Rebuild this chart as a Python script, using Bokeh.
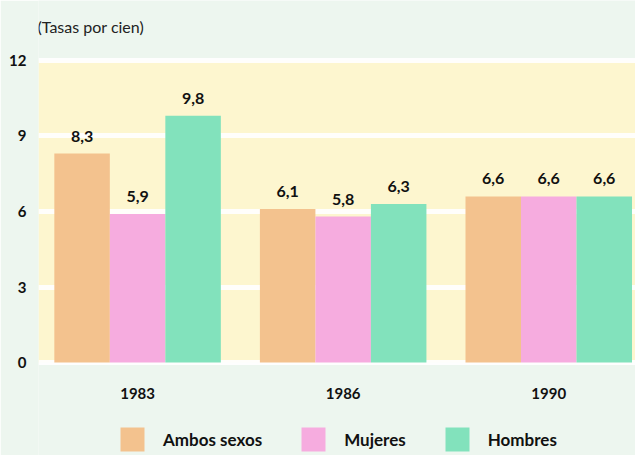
from bokeh.plotting import figure
from bokeh.models import (FactorRange, ColumnDataSource, FixedTicker, Legend,
                          LegendItem, BoxAnnotation, Label, Range1d)
from bokeh.transform import dodge
from bokeh.core.properties import value
from bokeh.embed import file_html
from bokeh.resources import INLINE

years = ["1983", "1986", "1990"]
series = ["Ambos sexos", "Mujeres", "Hombres"]
ambos = [8.3, 6.1, 6.6]
mujeres = [5.9, 5.8, 6.6]
hombres = [9.8, 6.3, 6.6]
y_ticks = [0, 3, 6, 9, 12]
y_title = "(Tasas por cien)"

colors = ["#f3c28e", "#f6acdf", "#82e2bc"]
FONT = "Lato"
BG = "#edf6ef"
PANEL = "#fdf6cf"

def fmt(v):
    return f"{v:.1f}".replace(".", ",")

data = dict(year=years, ambos=ambos, mujeres=mujeres, hombres=hombres,
            base=[0] * len(years))
for k in ["ambos", "mujeres", "hombres"]:
    data[k + "_lbl"] = [fmt(v) for v in data[k]]
source = ColumnDataSource(data)

# frame covers the whole height; the 0..12 band is the coloured panel
p = figure(
    x_range=FactorRange(*years, range_padding=-0.032),
    y_range=Range1d(-3.69, 14.38),
    width=635, height=455,
    output_backend="svg", toolbar_location=None,
    min_border_left=38, min_border_right=0,
    min_border_top=0, min_border_bottom=0,
)
p.background_fill_color = BG
p.border_fill_color = BG
p.outline_line_color = None

p.add_layout(BoxAnnotation(bottom=0, top=12, fill_color=PANEL, fill_alpha=1,
                           line_color=None, level="image"))

shift = 0.03
bw = 0.27
keys = ["ambos", "mujeres", "hombres"]
renderers = []
for i, (k, c) in enumerate(zip(keys, colors)):
    off = (i - 1) * bw + shift
    r = p.vbar(x=dodge("year", off, range=p.x_range), top=k, width=bw,
               source=source, fill_color=c, line_color=None)
    renderers.append(r)
    p.text(x=dodge("year", off, range=p.x_range), y=k, text=k + "_lbl",
           source=source, text_align="center", text_baseline="bottom",
           y_offset=-12, text_font=value(FONT), text_font_style="bold",
           text_font_size="16px", text_color="#111111")

# category labels below the panel
p.text(x=dodge("year", shift, range=p.x_range), y="base", text="year",
       source=source, text_align="center", text_baseline="top", y_offset=25,
       text_font=value(FONT), text_font_style="bold", text_font_size="15px",
       text_color="#111111")

p.add_layout(Label(x=-1, y=13.35, x_units="screen", text=y_title,
                   text_font=FONT, text_font_size="16px", text_color="#222222",
                   text_baseline="middle"))

p.xaxis.visible = False
p.yaxis.ticker = FixedTicker(ticks=y_ticks)
p.yaxis.axis_line_color = None
p.yaxis.major_tick_line_color = None
p.yaxis.minor_tick_line_color = None
p.yaxis.major_tick_out = 0
p.yaxis.major_label_standoff = 12
p.yaxis.major_label_text_font = FONT
p.yaxis.major_label_text_font_style = "bold"
p.yaxis.major_label_text_font_size = "15px"
p.yaxis.major_label_text_color = "#111111"

p.xgrid.grid_line_color = None
p.ygrid.ticker = FixedTicker(ticks=y_ticks)
p.ygrid.grid_line_color = "white"
p.ygrid.grid_line_width = 5
p.ygrid.grid_line_alpha = 0.9

legend = Legend(
    items=[LegendItem(label=s, renderers=[r]) for s, r in zip(series, renderers)],
    orientation="horizontal", location=(79, 1),
    glyph_width=30, glyph_height=30, label_standoff=16, spacing=36,
    background_fill_alpha=0, border_line_color=None, padding=0, margin=0,
    label_text_font=FONT, label_text_font_style="bold",
    label_text_font_size="17px", label_text_color="#111111",
)
p.add_layout(legend, "center")

open("out.html", "w").write(file_html(p, INLINE))
